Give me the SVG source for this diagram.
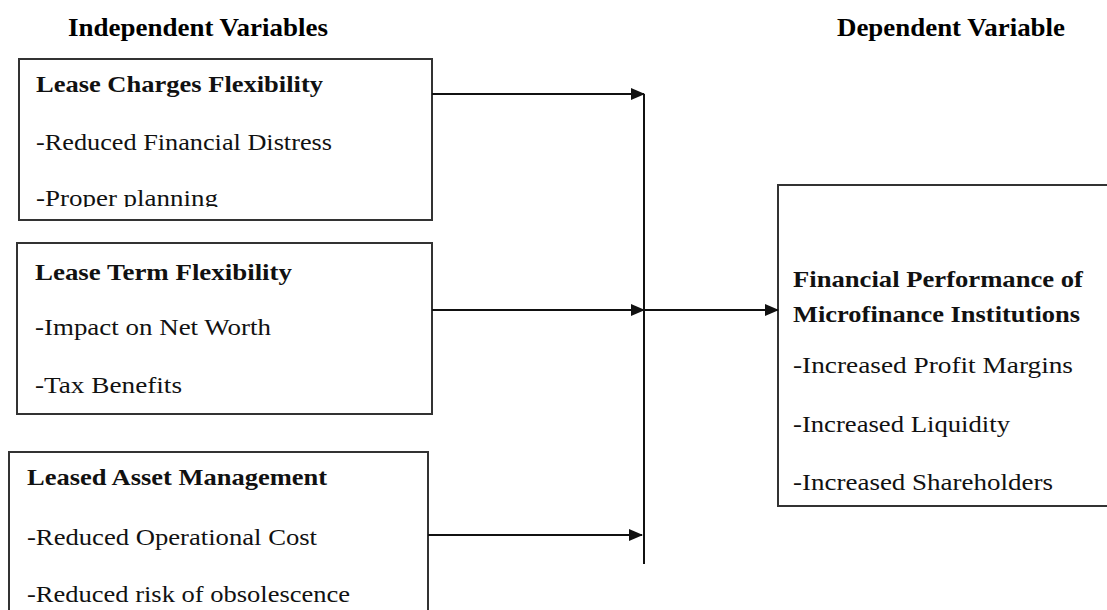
<svg xmlns="http://www.w3.org/2000/svg" width="1107" height="610" viewBox="0 0 1107 610">
<style>
.box{fill:#fff;stroke:#333;stroke-width:2}
.hd{font-family:"Liberation Serif","Times New Roman",serif;font-weight:bold;font-size:26px;fill:#000}
.tt{font-family:"Liberation Serif","Times New Roman",serif;font-weight:bold;font-size:24px;fill:#111}
.tx{font-family:"Liberation Serif","Times New Roman",serif;font-size:24px;fill:#111}
.ln{stroke:#111;stroke-width:2;fill:none}
</style>
<defs>
<marker id="ah" markerWidth="14" markerHeight="12" refX="13" refY="6" orient="auto" markerUnits="userSpaceOnUse">
<path d="M0,0 L14,6 L0,12 Z" fill="#111"/>
</marker>
<clipPath id="c1"><rect x="19" y="59" width="413" height="148"/></clipPath>
</defs>
<rect width="1107" height="610" fill="#fff"/>
<text class="hd" x="68" y="36" textLength="260" lengthAdjust="spacingAndGlyphs">Independent Variables</text>
<text class="hd" x="837" y="36" textLength="228" lengthAdjust="spacingAndGlyphs">Dependent Variable</text>

<g id="node-charges">
<rect class="box" x="19" y="59" width="413" height="161"/>
<text class="tt" x="36" y="92" textLength="287" lengthAdjust="spacingAndGlyphs">Lease Charges Flexibility</text>
<text class="tx" x="36" y="150" textLength="296" lengthAdjust="spacingAndGlyphs">-Reduced Financial Distress</text>
<text class="tx" x="36" y="206" textLength="182" lengthAdjust="spacingAndGlyphs" clip-path="url(#c1)">-Proper planning</text>
</g>

<g id="node-term">
<rect class="box" x="17" y="243" width="415" height="171"/>
<text class="tt" x="35" y="280" textLength="257" lengthAdjust="spacingAndGlyphs">Lease Term Flexibility</text>
<text class="tx" x="35" y="335" textLength="236" lengthAdjust="spacingAndGlyphs">-Impact on Net Worth</text>
<text class="tx" x="35" y="393" textLength="147" lengthAdjust="spacingAndGlyphs">-Tax Benefits</text>
</g>

<g id="node-asset">
<rect class="box" x="9" y="452" width="419" height="180"/>
<text class="tt" x="27" y="485" textLength="300" lengthAdjust="spacingAndGlyphs">Leased Asset Management</text>
<text class="tx" x="27" y="545" textLength="290" lengthAdjust="spacingAndGlyphs">-Reduced Operational Cost</text>
<text class="tx" x="27" y="602" textLength="323" lengthAdjust="spacingAndGlyphs">-Reduced risk of obsolescence</text>
</g>

<g id="node-performance">
<rect class="box" x="778" y="185" width="345" height="321"/>
<text class="tt" x="793" y="287" textLength="290" lengthAdjust="spacingAndGlyphs">Financial Performance of</text>
<text class="tt" x="793" y="322" textLength="287" lengthAdjust="spacingAndGlyphs">Microfinance Institutions</text>
<text class="tx" x="793" y="373" textLength="280" lengthAdjust="spacingAndGlyphs">-Increased Profit Margins</text>
<text class="tx" x="793" y="432" textLength="217" lengthAdjust="spacingAndGlyphs">-Increased Liquidity</text>
<text class="tx" x="793" y="490" textLength="260" lengthAdjust="spacingAndGlyphs">-Increased Shareholders</text>
</g>

<g id="connectors">
<line class="ln" x1="432" y1="94" x2="644" y2="94" marker-end="url(#ah)"/>
<line class="ln" x1="432" y1="310" x2="644" y2="310" marker-end="url(#ah)"/>
<line class="ln" x1="428" y1="535" x2="642" y2="535" marker-end="url(#ah)"/>
<line class="ln" x1="644" y1="94" x2="644" y2="564"/>
<line class="ln" x1="644" y1="310" x2="778" y2="310" marker-end="url(#ah)"/>
</g>
</svg>
